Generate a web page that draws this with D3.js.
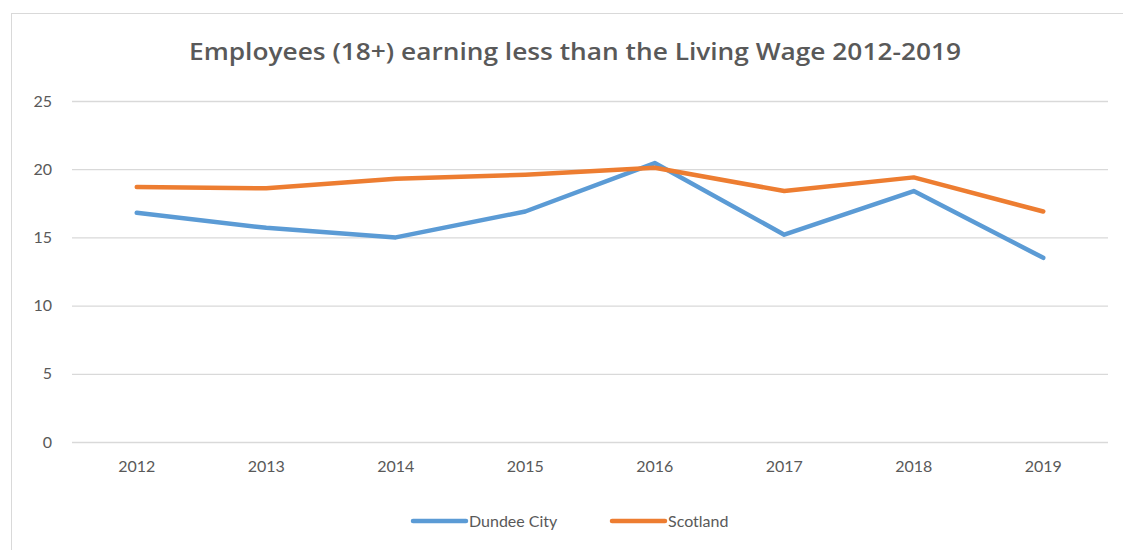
<!DOCTYPE html>
<html lang="en">
<head>
    <meta charset="utf-8">
    <title>Employees earning less than the Living Wage</title>
    <script src="https://d3js.org/d3.v7.min.js"></script>
    <style type="text/css">
        body { margin: 0; background: #fff; }
        text { font-family: Lato, "Open Sans", sans-serif; fill: #595959; }
    </style>
</head>
<body>
    <script type="text/javascript">

        // data
        var years = ["2012", "2013", "2014", "2015", "2016", "2017", "2018", "2019"];
        var dundee = [16.8, 15.7, 15.0, 16.9, 20.45, 15.2, 18.4, 13.5];
        var scotland = [18.7, 18.6, 19.3, 19.6, 20.1, 18.4, 19.4, 16.9];
        var yTicks = [0, 5, 10, 15, 20, 25];

        var w = 1123;
        var h = 550;
        var plotLeft = 72, plotRight = 1108, plotTop = 101, plotBottom = 442;

        var svg = d3.select("body")
            .append("svg")
            .attr("width", w)
            .attr("height", h);

        // chart border
        svg.append("rect")
            .attr("x", 11.5).attr("y", 13.5)
            .attr("width", 1130).attr("height", 560)
            .attr("fill", "none")
            .attr("stroke", "#d9d9d9");

        svg.append("text")
            .attr("x", 575).attr("y", 60)
            .attr("text-anchor", "middle")
            .attr("font-size", 23)
            .attr("font-weight", 600)
            .style("font-family", "'Open Sans', sans-serif")
            .attr("textLength", 772)
            .attr("lengthAdjust", "spacingAndGlyphs")
            .text("Employees (18+) earning less than the Living Wage 2012-2019");

        var x = d3.scaleBand().domain(years).range([plotLeft, plotRight]);
        var y = d3.scaleLinear().domain([0, 25]).range([plotBottom, plotTop]);

        // gridlines
        svg.append("g")
            .attr("transform", "translate(" + plotLeft + ",0)")
            .call(d3.axisLeft(y).tickValues(yTicks).tickSize(-(plotRight - plotLeft)).tickPadding(20))
            .call(function (g) {
                g.select(".domain").remove();
                g.selectAll("line").attr("stroke", "#d9d9d9").attr("stroke-width", 1.3);
                g.selectAll("text").attr("font-size", 16).attr("fill", "#595959")
                    .style("font-family", "Lato, sans-serif");
            });

        svg.append("g")
            .attr("transform", "translate(0," + plotBottom + ")")
            .call(d3.axisBottom(x).tickSize(0).tickPadding(19))
            .call(function (g) {
                g.select(".domain").remove();
                g.selectAll("text").attr("font-size", 16).attr("fill", "#595959")
                    .style("font-family", "Lato, sans-serif");
            });

        var line = d3.line()
            .x(function (d, i) { return x(years[i]) + x.bandwidth() / 2; })
            .y(function (d) { return y(d); });

        var series = [
            { name: "Dundee City", values: dundee, color: "#5b9bd5" },
            { name: "Scotland", values: scotland, color: "#ed7d31" }
        ];

        svg.selectAll("path.series")
            .data(series)
            .enter()
            .append("path")
            .attr("class", "series")
            .attr("d", function (d) { return line(d.values); })
            .attr("fill", "none")
            .attr("stroke", function (d) { return d.color; })
            .attr("stroke-width", 4.5)
            .attr("stroke-linejoin", "round")
            .attr("stroke-linecap", "round");

        // legend
        var legendX = [413, 612];
        var lg = svg.selectAll("g.legend")
            .data(series)
            .enter()
            .append("g")
            .attr("class", "legend")
            .attr("transform", function (d, i) { return "translate(" + legendX[i] + ",521)"; });
        lg.append("line")
            .attr("x1", 0).attr("x2", 53)
            .attr("stroke", function (d) { return d.color; })
            .attr("stroke-width", 4.5)
            .attr("stroke-linecap", "round");
        lg.append("text")
            .attr("x", 56).attr("y", 6)
            .attr("font-size", 16)
            .text(function (d) { return d.name; });
    </script>
</body>
</html>
